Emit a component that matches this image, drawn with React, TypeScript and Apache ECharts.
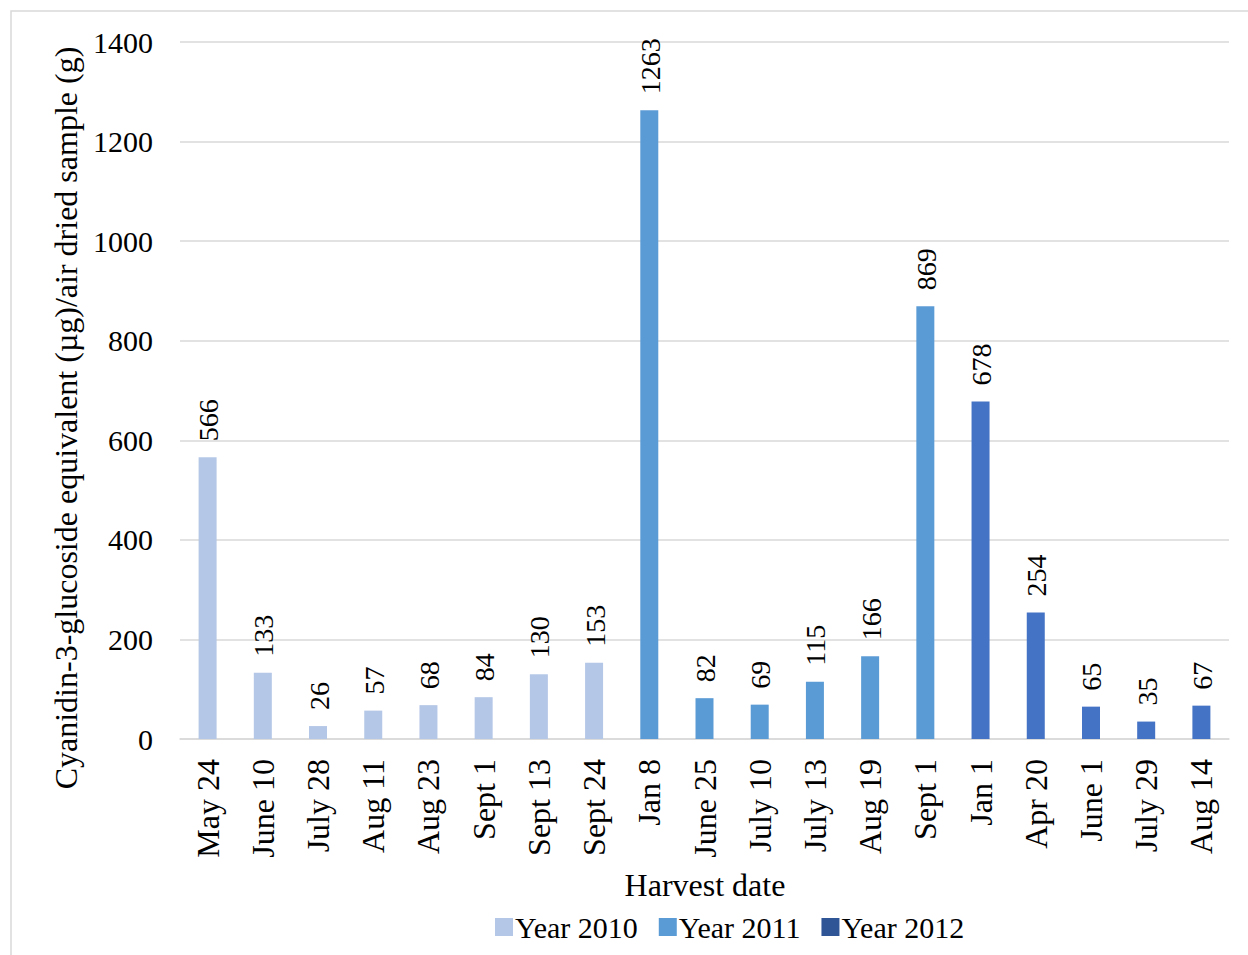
import React, { useEffect, useRef } from "react";
import * as echarts from "echarts";

const categories = [
  "May 24", "June 10", "July 28", "Aug 11", "Aug 23", "Sept 1", "Sept 13", "Sept 24",
  "Jan 8", "June 25", "July 10", "July 13", "Aug 19", "Sept 1",
  "Jan 1", "Apr 20", "June 1", "July 29", "Aug 14",
];

const year2010 = [566, 133, 26, 57, 68, 84, 130, 153, null, null, null, null, null, null, null, null, null, null, null];
const year2011 = [null, null, null, null, null, null, null, null, 1263, 82, 69, 115, 166, 869, null, null, null, null, null];
const year2012 = [null, null, null, null, null, null, null, null, null, null, null, null, null, null, 678, 254, 65, 35, 67];

const yTicks = { min: 0, max: 1400, interval: 200 };

const FONT = "Liberation Serif";

export default function App() {
  const ref = useRef<HTMLDivElement>(null);

  useEffect(() => {
    if (!ref.current) return;
    const chart = echarts.init(ref.current, null, { renderer: "svg" });

    const mk = (name: string, data: (number | null)[], color: string) => ({
      name,
      type: "bar",
      stack: "harvest",
      data,
      barWidth: 18,
      itemStyle: { color },
    });

    // one value label per category, taken from whichever year holds it
    const labelData = categories.map((_, i) => [i, year2010[i] ?? year2011[i] ?? year2012[i]]);

    chart.setOption({
      animation: false,
      backgroundColor: "#fff",
      textStyle: { fontFamily: FONT },
      grid: { left: 180, right: 19, top: 42, bottom: 216 },
      legend: {
        left: 490,
        top: 907,
        itemWidth: 18,
        itemHeight: 18,
        itemGap: 21,
        icon: "rect",
        textStyle: { fontFamily: FONT, fontSize: 30, color: "#000", padding: [4, 0, 0, -3] },
        data: [
          { name: "Year 2010" },
          { name: "Year 2011" },
          { name: "Year 2012", itemStyle: { color: "#2F5597" } },
        ],
      },
      xAxis: {
        type: "category",
        data: categories,
        axisLine: { lineStyle: { color: "#d9d9d9", width: 1.5 } },
        axisTick: { show: false },
        axisLabel: {
          rotate: 90,
          interval: 0,
          margin: 20,
          fontFamily: FONT,
          fontSize: 32,
          color: "#000",
        },
      },
      yAxis: {
        type: "value",
        min: yTicks.min,
        max: yTicks.max,
        interval: yTicks.interval,
        axisLine: { show: false },
        axisTick: { show: false },
        splitLine: { lineStyle: { color: "#d9d9d9", width: 1.5 } },
        axisLabel: {
          margin: 27,
          fontFamily: FONT,
          fontSize: 30,
          color: "#000",
          formatter: (v: number) => String(v),
        },
      },
      graphic: [
        {
          type: "rect",
          shape: { x: 11, y: 11, width: 1300, height: 1000 },
          style: { fill: "none", stroke: "#d9d9d9", lineWidth: 1.5 },
          silent: true,
          z: -10,
        },
        {
          type: "text",
          x: 66,
          y: 418,
          rotation: Math.PI / 2,
          style: {
            text: "Cyanidin-3-glucoside equivalent (µg)/air dried sample (g)",
            fontFamily: FONT,
            fontSize: 32,
            fill: "#000",
            align: "center",
            verticalAlign: "middle",
          },
        },
        {
          type: "text",
          x: 705,
          y: 885,
          style: {
            text: "Harvest date",
            fontFamily: FONT,
            fontSize: 32,
            fill: "#000",
            align: "center",
            verticalAlign: "middle",
          },
        },
      ],
      series: [
        mk("Year 2010", year2010, "#B4C7E7"),
        mk("Year 2011", year2011, "#5B9BD5"),
        mk("Year 2012", year2012, "#4472C4"),
        {
          type: "custom",
          silent: true,
          z: 5,
          data: labelData,
          encode: { x: 0, y: 1 },
          renderItem: (_params: any, api: any) => {
            const v = api.value(1);
            const p = api.coord([api.value(0), v]);
            return {
              type: "text",
              x: p[0] + 1,
              y: p[1] - 16,
              rotation: Math.PI / 2,
              style: {
                text: String(v),
                fontFamily: FONT,
                fontSize: 28,
                fill: "#000",
                align: "left",
                verticalAlign: "middle",
              },
            };
          },
        },
      ],
    });
    return () => chart.dispose();
  }, []);

  return (
    <div
      ref={ref}
      style={{ position: "absolute", left: 0, top: 0, width: 1248, height: 955 }}
    />
  );
}
